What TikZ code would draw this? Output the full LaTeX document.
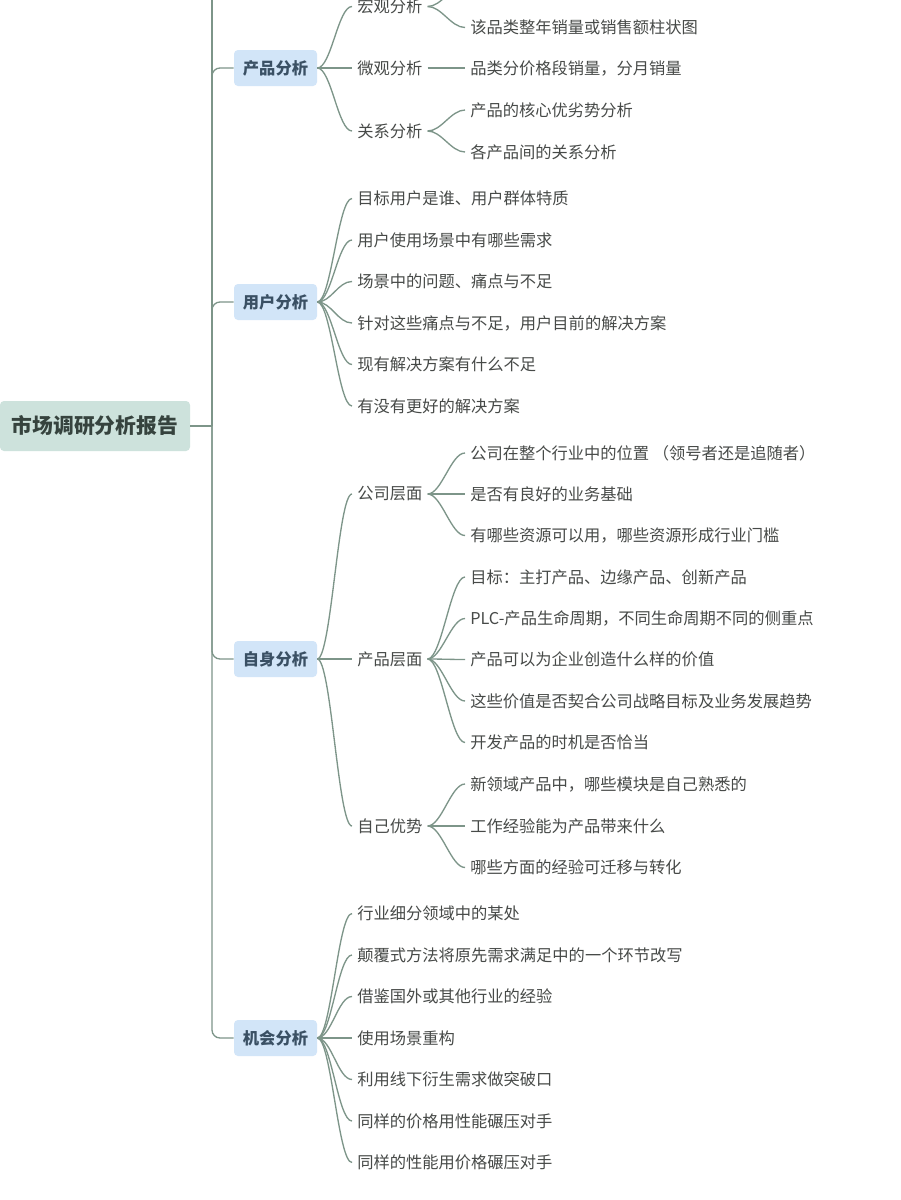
\documentclass[tikz,border=0pt]{standalone}
\usepackage{fontspec}
\setmainfont{Noto Sans CJK SC}
\definecolor{connc}{HTML}{7D9589}
\definecolor{leaftext}{HTML}{474A48}
\definecolor{topfill}{HTML}{D2E5F8}
\definecolor{toptext}{HTML}{3A5064}
\definecolor{rootfill}{HTML}{CDE2DC}
\definecolor{roottext}{HTML}{36433E}
\newcommand\cc[2]{\draw[conn] (#1.east) .. controls +(14,0) and +(-14,0) .. (#2.west);}
\begin{document}
\begin{tikzpicture}[x=0.75pt,y=-0.75pt,
  conn/.style={draw=connc, line width=1pt},
  rootbox/.style={fill=rootfill, rounded corners=3pt, text=roottext, font=\bfseries\fontsize{15.6}{18}\selectfont, minimum width=142.5pt, minimum height=37.5pt, inner sep=0pt},
  topicbox/.style={fill=topfill, rounded corners=3pt, text=toptext, font=\bfseries\fontsize{12.2}{14}\selectfont, minimum width=62.25pt, minimum height=27pt, inner sep=0pt},
  leafnode/.style={anchor=west, inner xsep=3.75pt, inner ysep=0pt, text=leaftext, font=\fontsize{12.2}{14}\selectfont}]
\useasboundingbox (0,0) rectangle (900,1200);
\clip (0,0) rectangle (900,1200);
\fill[white] (0,0) rectangle (900,1200);

% root
\node[rootbox] (root) at (95,426) {市场调研分析报告};
\coordinate (tj) at (212,426);
\coordinate (ttop) at (212,-10);
\draw[conn] (root.east) -- (tj);
\draw[conn] (tj) -- (ttop);

% level 1
\node[topicbox] (t1) at (275.5,68) {产品分析};
\node[topicbox] (t2) at (275.5,302) {用户分析};
\node[topicbox] (t3) at (275.5,659) {自身分析};
\node[topicbox] (t4) at (275.5,1038) {机会分析};
\draw[conn, rounded corners=6pt] (tj) |- (t1.west);
\draw[conn, rounded corners=6pt] (tj) |- (t2.west);
\draw[conn, rounded corners=6pt] (tj) |- (t3.west);
\draw[conn, rounded corners=6pt] (tj) |- (t4.west);

% 产品分析
\node[leafnode] (a1) at (352,6.5) {宏观分析};
\node[leafnode] (a2) at (352,68) {微观分析};
\node[leafnode] (a3) at (352,131) {关系分析};
\cc{t1}{a1}\cc{t1}{a2}\cc{t1}{a3}
\coordinate (a1h) at (465,-14.5);
\draw[conn] (a1.east) .. controls +(14,0) and +(-14,0) .. (a1h);
\node[leafnode] (a1b) at (465,27.5) {该品类整年销量或销售额柱状图};
\cc{a1}{a1b}
\node[leafnode] (a2a) at (465,68) {品类分价格段销量，分月销量};
\cc{a2}{a2a}
\node[leafnode] (a3a) at (465,110) {产品的核心优劣势分析};
\node[leafnode] (a3b) at (465,152) {各产品间的关系分析};
\cc{a3}{a3a}\cc{a3}{a3b}

% 用户分析
\node[leafnode] (u1) at (352,198.5) {目标用户是谁、用户群体特质};
\node[leafnode] (u2) at (352,240) {用户使用场景中有哪些需求};
\node[leafnode] (u3) at (352,281.5) {场景中的问题、痛点与不足};
\node[leafnode] (u4) at (352,323) {针对这些痛点与不足，用户目前的解决方案};
\node[leafnode] (u5) at (352,364.5) {现有解决方案有什么不足};
\node[leafnode] (u6) at (352,406) {有没有更好的解决方案};
\cc{t2}{u1}\cc{t2}{u2}\cc{t2}{u3}\cc{t2}{u4}\cc{t2}{u5}\cc{t2}{u6}

% 自身分析
\node[leafnode] (b1) at (352,494) {公司层面};
\node[leafnode] (b2) at (352,659) {产品层面};
\node[leafnode] (b3) at (352,826) {自己优势};
\cc{t3}{b1}\cc{t3}{b2}\cc{t3}{b3}
\node[leafnode] (b1a) at (465,453) {公司在整个行业中的位置 （领号者还是追随者）};
\node[leafnode] (b1b) at (465,494) {是否有良好的业务基础};
\node[leafnode] (b1c) at (465,535.5) {有哪些资源可以用，哪些资源形成行业门槛};
\cc{b1}{b1a}\cc{b1}{b1b}\cc{b1}{b1c}
\node[leafnode] (b2a) at (465,577) {目标：主打产品、边缘产品、创新产品};
\node[leafnode] (b2b) at (465,618.5) {PLC-产品生命周期，不同生命周期不同的侧重点};
\node[leafnode] (b2c) at (465,659.5) {产品可以为企业创造什么样的价值};
\node[leafnode] (b2d) at (465,701) {这些价值是否契合公司战略目标及业务发展趋势};
\node[leafnode] (b2e) at (465,742.5) {开发产品的时机是否恰当};
\cc{b2}{b2a}\cc{b2}{b2b}\cc{b2}{b2c}\cc{b2}{b2d}\cc{b2}{b2e}
\node[leafnode] (b3a) at (465,784) {新领域产品中，哪些模块是自己熟悉的};
\node[leafnode] (b3b) at (465,826) {工作经验能为产品带来什么};
\node[leafnode] (b3c) at (465,867.5) {哪些方面的经验可迁移与转化};
\cc{b3}{b3a}\cc{b3}{b3b}\cc{b3}{b3c}

% 机会分析
\node[leafnode] (o1) at (352,913.5) {行业细分领域中的某处};
\node[leafnode] (o2) at (352,955) {颠覆式方法将原先需求满足中的一个环节改写};
\node[leafnode] (o3) at (352,996.5) {借鉴国外或其他行业的经验};
\node[leafnode] (o4) at (352,1038) {使用场景重构};
\node[leafnode] (o5) at (352,1079.5) {利用线下衍生需求做突破口};
\node[leafnode] (o6) at (352,1121) {同样的价格用性能碾压对手};
\node[leafnode] (o7) at (352,1162.5) {同样的性能用价格碾压对手};
\cc{t4}{o1}\cc{t4}{o2}\cc{t4}{o3}\cc{t4}{o4}\cc{t4}{o5}\cc{t4}{o6}\cc{t4}{o7}
\end{tikzpicture}
\end{document}
